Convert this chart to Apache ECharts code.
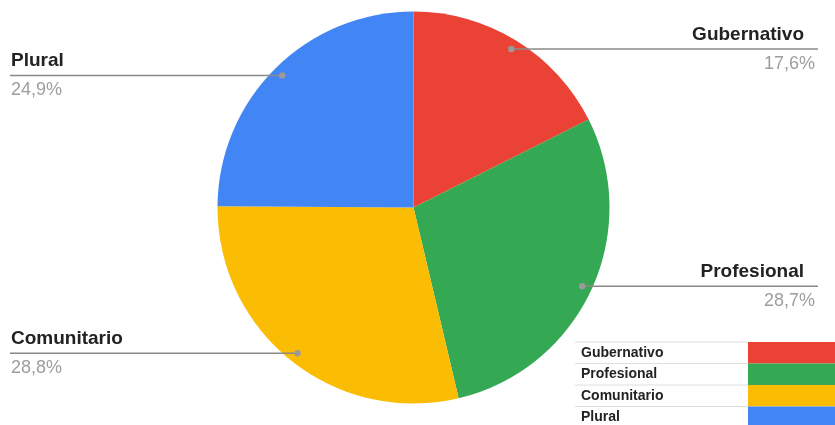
<!DOCTYPE html>
<html>
<head>
<meta charset="utf-8">
<style>
  html, body { margin: 0; padding: 0; background: #ffffff; }
  #chart { width: 835px; height: 425px; }
</style>
<script src="https://cdn.jsdelivr.net/npm/echarts@6/dist/echarts.min.js"></script>
</head>
<body>
<div id="chart"></div>
<script>
// Share of each category (percent)
const categories = ['Gubernativo', 'Profesional', 'Comunitario', 'Plural'];
const shares = [17.6, 28.7, 28.8, 24.9];
const colors = ['#ea4335', '#34a853', '#fbbc04', '#4285f4'];

const FONT = '"Liberation Sans", Arial, sans-serif';
const CX = 413.5, CY = 207.5, R = 196;
const DOT_R = R * 0.95;          // where each leader line starts
const RIGHT_END = 818, LEFT_END = 10;

const total = shares.reduce((a, b) => a + b, 0);

// mid angle of each slice, clockwise from 12 o'clock, in radians
function midAngle(i) {
  let before = 0;
  for (let k = 0; k < i; k++) before += shares[k];
  return ((before + shares[i] / 2) / total) * Math.PI * 2;
}
function anchor(i) {
  const a = midAngle(i);
  return { x: CX + DOT_R * Math.sin(a), y: CY - DOT_R * Math.cos(a), right: Math.sin(a) > 0 };
}
const fmt = v => v.toFixed(1).replace('.', ',') + '%';

const chart = echarts.init(document.getElementById('chart'), null, { renderer: 'canvas' });

// thin rules between legend rows
const legendLines = [342, 363.5, 385, 406.5].map(y => ({
  type: 'line',
  shape: { x1: 575, y1: y, x2: 748, y2: y },
  style: { stroke: '#dedede', lineWidth: 1 },
  silent: true
}));

// leader lines drawn over the slices, each starting with a small dot
const leaders = [];
categories.forEach((c, i) => {
  const p = anchor(i);
  leaders.push({
    type: 'line',
    shape: { x1: p.x, y1: p.y, x2: p.right ? RIGHT_END : LEFT_END, y2: p.y },
    style: { stroke: '#8a8a8a', lineWidth: 1.5 },
    z: 100,
    silent: true
  });
  leaders.push({
    type: 'circle',
    shape: { cx: p.x, cy: p.y, r: 3.2 },
    style: { fill: '#9a9a9a' },
    z: 101,
    silent: true
  });
});

chart.setOption({
  animation: false,
  backgroundColor: '#ffffff',
  color: colors,
  legend: {
    orient: 'vertical',
    left: 581,
    top: 342,
    height: 90,
    padding: 0,
    itemGap: 0,
    align: 'right',
    itemWidth: 100,
    itemHeight: 21.5,
    icon: 'rect',
    selectedMode: false,
    data: categories,
    formatter: name => '{t|' + name + '}',
    textStyle: {
      rich: {
        t: {
          width: 162,
          align: 'left',
          fontFamily: FONT,
          fontSize: 14,
          fontWeight: 'bold',
          color: '#222222'
        }
      }
    }
  },
  graphic: legendLines.concat(leaders),
  series: [{
    type: 'pie',
    center: [CX, CY],
    radius: R,
    startAngle: 90,
    clockwise: true,
    silent: true,
    emphasis: { disabled: true },
    itemStyle: { borderWidth: 0 },
    data: categories.map((c, i) => ({ name: c, value: shares[i] })),
    label: {
      show: true,
      position: 'outside',
      formatter: p => {
        const side = anchor(p.dataIndex).right ? 'nR' : 'n';
        return '{' + side + '|' + p.name + '}\n{p|' + fmt(p.value) + '}';
      },
      rich: {
        n:  { fontFamily: FONT, fontSize: 19, fontWeight: 'bold', color: '#222222', lineHeight: 29 },
        nR: { fontFamily: FONT, fontSize: 19, fontWeight: 'bold', color: '#222222', lineHeight: 29, padding: [0, 11, 0, 0] },
        p:  { fontFamily: FONT, fontSize: 18, color: '#9e9e9e', lineHeight: 29 }
      }
    },
    labelLine: { show: false },
    labelLayout: params => {
      const p = anchor(params.dataIndex);
      return {
        x: p.right ? 815 : 11,
        y: p.y,
        align: p.right ? 'right' : 'left',
        verticalAlign: 'middle'
      };
    }
  }]
});
</script>
</body>
</html>
